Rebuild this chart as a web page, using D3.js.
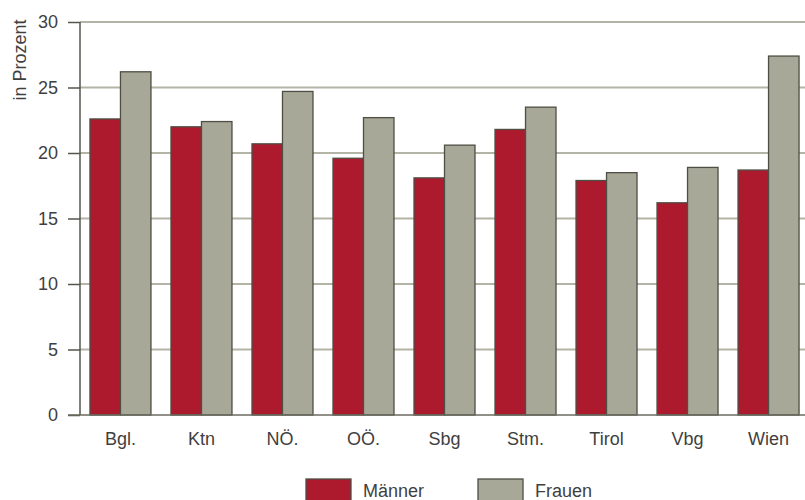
<!DOCTYPE html>
<html>
<head>
<meta charset="utf-8">
<script src="https://cdn.jsdelivr.net/npm/d3@7"></script>
<style>
  html, body { margin: 0; padding: 0; background: #fff; }
  svg { display: block; }
  text { font-family: "Liberation Sans", Arial, Helvetica, sans-serif; fill: #3f3f3f; }
</style>
</head>
<body>
<svg id="chart" width="805" height="500"></svg>
<script>
// Bundesländer and shares (in %) for men and women
const categories = ["Bgl.", "Ktn", "NÖ.", "OÖ.", "Sbg", "Stm.", "Tirol", "Vbg", "Wien"];
const maenner = [22.6, 22.0, 20.7, 19.6, 18.1, 21.8, 17.9, 16.2, 18.7];
const frauen  = [26.2, 22.4, 24.7, 22.7, 20.6, 23.5, 18.5, 18.9, 27.4];
const seriesNames = ["Männer", "Frauen"];
const yTicks = [0, 5, 10, 15, 20, 25, 30];

const colors = { "Männer": "#ad1a2e", "Frauen": "#a7a898" };
const strokeColor = "#4e4e44";
const fontSize = "18px";

const svg = d3.select("#chart");
const margin = { left: 80, top: 22 };
const plotBottom = 415;
const plotRight = 809;

const x = d3.scaleBand()
  .domain(categories)
  .range([margin.left, plotRight])
  .paddingInner(0.247)
  .paddingOuter(0.123);

const xSub = d3.scaleBand()
  .domain(seriesNames)
  .range([0, x.bandwidth()]);

const y = d3.scaleLinear()
  .domain([0, 30])
  .range([plotBottom, margin.top]);

// horizontal grid lines
svg.append("g")
  .selectAll("line")
  .data(yTicks.filter(d => d > 0))
  .join("line")
  .attr("x1", margin.left)
  .attr("x2", 805)
  .attr("y1", d => y(d))
  .attr("y2", d => y(d))
  .attr("stroke", "#b3b4a5")
  .attr("stroke-width", 2);

// bars
const rows = categories.map((c, i) => ({ cat: c, values: [
  { key: "Männer", value: maenner[i] },
  { key: "Frauen", value: frauen[i] }
]}));

const groups = svg.append("g")
  .selectAll("g")
  .data(rows)
  .join("g")
  .attr("transform", d => `translate(${x(d.cat)},0)`);

groups.selectAll("rect")
  .data(d => d.values)
  .join("rect")
  .attr("x", d => xSub(d.key))
  .attr("y", d => y(d.value))
  .attr("width", xSub.bandwidth())
  .attr("height", d => y(0) - y(d.value))
  .attr("fill", d => colors[d.key])
  .attr("stroke", strokeColor)
  .attr("stroke-width", 1.3);

// y axis
const yAxis = svg.append("g")
  .attr("transform", `translate(${margin.left},0)`)
  .call(d3.axisLeft(y).tickValues(yTicks).tickSize(12).tickPadding(10).tickFormat(d3.format("d")));
yAxis.select(".domain").attr("stroke", "#55554c").attr("stroke-width", 1.5).attr("d", `M0,${y(30)}V${plotBottom}`);
yAxis.selectAll(".tick line").attr("stroke", "#55554c").attr("stroke-width", 1.5);
yAxis.selectAll(".tick text").style("font-size", fontSize).attr("fill", "#3f3f3f");

// baseline
svg.append("line")
  .attr("x1", margin.left - 12)
  .attr("x2", 805)
  .attr("y1", plotBottom)
  .attr("y2", plotBottom)
  .attr("stroke", "#6b6b60")
  .attr("stroke-width", 1.5);

// x labels
const xAxis = svg.append("g")
  .attr("transform", `translate(0,${plotBottom})`)
  .call(d3.axisBottom(x).tickSize(0).tickPadding(17));
xAxis.select(".domain").remove();
xAxis.selectAll(".tick text").style("font-size", fontSize).attr("fill", "#3f3f3f");

// y title
svg.append("text")
  .attr("transform", "translate(26,60) rotate(-90)")
  .attr("text-anchor", "middle")
  .style("font-size", fontSize)
  .text("in Prozent");

// legend
const legendItems = [
  { key: "Männer", rx: 306, tx: 363 },
  { key: "Frauen", rx: 478, tx: 535 }
];
const legend = svg.append("g");
legend.selectAll("rect")
  .data(legendItems)
  .join("rect")
  .attr("x", d => d.rx)
  .attr("y", 479)
  .attr("width", 45)
  .attr("height", 22)
  .attr("fill", d => colors[d.key])
  .attr("stroke", strokeColor)
  .attr("stroke-width", 1.3);
legend.selectAll("text")
  .data(legendItems)
  .join("text")
  .attr("x", d => d.tx)
  .attr("y", 497)
  .style("font-size", fontSize)
  .text(d => d.key);
</script>
</body>
</html>
